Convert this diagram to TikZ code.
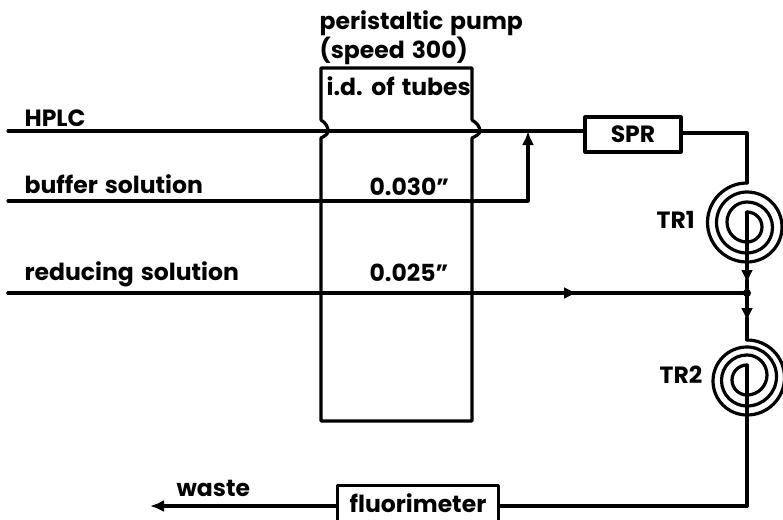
\documentclass[tikz,border=0pt]{standalone}
\usepackage{fontspec}
\setmainfont[WordSpace=1.4]{Poppins}
\usetikzlibrary{arrows.meta}
\begin{document}
\begin{tikzpicture}[x=1pt,y=-1pt,line width=3.2pt,line join=round,line cap=round,
	label/.style={inner sep=0pt,anchor=base west,font=\fontsize{23.5}{23.5}\selectfont\bfseries},
	device/.style={inner sep=0pt,font=\fontsize{23.5}{23.5}\selectfont\bfseries},
	tip/.style={-{Latex[length=14pt,width=12pt]}}]
\useasboundingbox (0,0) rectangle (783,519);
\node [label] (pumptitle) at (318,30) {peristaltic pump};
\node [label] (speed) at (318,58) {(speed 300)};
\node [label] (tubes) at (325,95) {i.d. of tubes};
\node [label] (hplc) at (23,126) {HPLC};
\node [label] (buffer) at (23,193) {buffer solution};
\node [label] (reducing) at (23,280) {reducing solution};
\node [label] (gauge1) at (368,195) {0.030"};
\node [label] (gauge2) at (368,281) {0.025"};
\node [label] (tr1) at (655,228) {TR1};
\node [label] (tr2) at (658,383) {TR2};
\node [label] (waste) at (175,496) {waste};
\node [device,draw,minimum width=96pt,minimum height=35pt] (spr) at (633,134.5) {SPR};
\node [device,anchor=base,minimum width=158pt,text height=25pt,text depth=7pt] (fluor) at (418,512) {fluorimeter};
\coordinate (a) at (8,131);
\coordinate (b) at (8,201);
\coordinate (c) at (8,293);
\coordinate (d) at (528,131);
\coordinate (e) at (528,201);
\coordinate (f) at (747,293);
\coordinate (g) at (747,183);
\coordinate (h) at (747,212);
\coordinate (i) at (747,340);
\coordinate (j) at (747,506);
\coordinate (k) at (150,506);
\draw (fluor.south west) -- (fluor.north west) -- (fluor.north east) -- (fluor.south east);
%pump
\draw (321,120) .. controls (326,123) and (328,127) .. (328,131) .. controls (328,134) and (325,136) .. (321,138)
	-- (321,421) -- (472,421) -- (472,138)
	.. controls (476,136) and (480,134) .. (480,131) .. controls (480,127) and (477,123) .. (472,120)
	-- (472,68) -- (321,68) -- cycle;
%lines
\draw (a) -- (spr.west |- a);
\draw [tip] (b) -- (e) -- (d);
\draw (c) -- (f);
\draw [tip] (c) -- (578,293);
\draw (spr.east |- 0,133) -- (747,133) -- (g);
\draw [tip] (h) -- (747,284);
\draw (747,280) -- (f);
\draw [tip] (f) -- (747,322);
\draw (747,318) -- (i);
\fill (f) circle (4pt);
\draw [tip] (fluor.west |- j) -- (k);
\draw (j) -- (fluor.east |- j);
%coils
\draw (g) arc (270:90:39.5) arc (90:-90:35) arc (270:90:30.5) arc (90:-90:25.5) arc (270:90:20) arc (90:-90:15);
\draw (i) arc (-90:90:37.5) arc (90:270:34) arc (-90:90:29.5) arc (90:270:25.5) arc (-90:90:20) arc (90:270:15);
\draw (747,365) -- (j);
\end{tikzpicture}
\end{document}
